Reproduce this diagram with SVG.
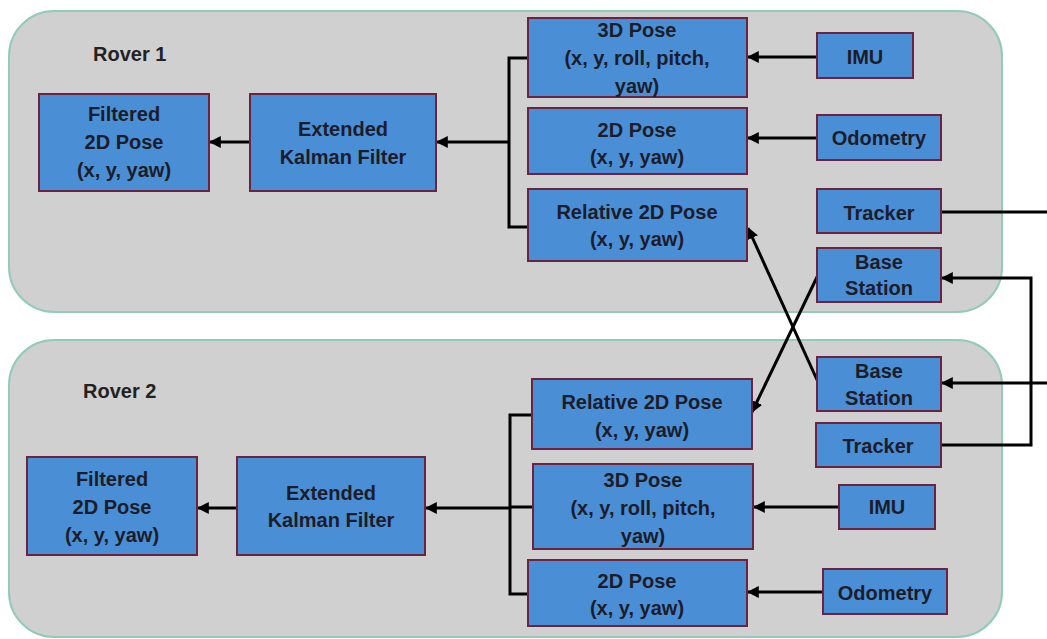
<svg xmlns="http://www.w3.org/2000/svg" width="1047" height="639" viewBox="0 0 1047 639">
<defs>
<style>
.rover{fill:#d0d0d0;stroke:#93cbb8;stroke-width:2}
.box{fill:#4a8fd5;stroke:#6a2341;stroke-width:2}
text{font-family:"Liberation Sans",Arial,sans-serif;font-weight:bold;font-size:20px;fill:#1c1c2a;text-anchor:middle}
.title{text-anchor:start;fill:#222}
.ln{fill:none;stroke:#000;stroke-width:3}
.arr{fill:none;stroke:#000;stroke-width:3;marker-end:url(#ah)}
</style>
<marker id="ah" viewBox="0 0 10 10" refX="9" refY="5" markerWidth="4" markerHeight="4" orient="auto" markerUnits="strokeWidth">
<path d="M0,0 L10,5 L0,10 z" fill="#000"/>
</marker>
</defs>
<rect width="1047" height="639" fill="#ffffff"/>
<g id="rover1">
<rect class="rover" x="9" y="11" width="993" height="301" rx="45" ry="45"/>
<text class="title" x="93" y="61">Rover 1</text>
</g>
<g id="rover2">
<rect class="rover" x="9" y="340" width="993" height="297" rx="45" ry="45"/>
<text class="title" x="83" y="398">Rover 2</text>
</g>
<g id="connectors">
<path class="arr" d="M250,142 H210"/>
<path class="ln" d="M528,58 H509 V227 H528"/>
<path class="arr" d="M509,142 H437"/>
<path class="arr" d="M817,57 H748"/>
<path class="arr" d="M817,138 H748"/>
<path class="ln" d="M941,212 H1047"/>
<path class="arr" d="M941,445 H1031 V278 H942"/>
<path class="arr" d="M1047,383 H942"/>
<path class="arr" d="M818,382 L748,228"/>
<path class="arr" d="M818,275 L752,412"/>
<path class="arr" d="M237,508 H198"/>
<path class="ln" d="M532,415 H510 V594 H528 M510,507 H533"/>
<path class="arr" d="M510,508 H426"/>
<path class="arr" d="M839,507 H754"/>
<path class="arr" d="M823,592 H748"/>
</g>
<g id="filtered1"><rect class="box" x="39" y="94" width="170" height="97"/><text x="124" y="121">Filtered</text><text x="124" y="149">2D Pose</text><text x="124" y="177">(x, y, yaw)</text></g>
<g id="ekf1"><rect class="box" x="250" y="94" width="186" height="97"/><text x="343" y="136">Extended</text><text x="343" y="164">Kalman Filter</text></g>
<g id="pose3d1"><rect class="box" x="528" y="18" width="219" height="79"/><text x="637" y="37">3D Pose</text><text x="637" y="65">(x, y, roll, pitch,</text><text x="637" y="93">yaw)</text></g>
<g id="pose2d1"><rect class="box" x="528" y="108" width="219" height="66"/><text x="637" y="137">2D Pose</text><text x="637" y="164">(x, y, yaw)</text></g>
<g id="rel1"><rect class="box" x="528" y="189" width="219" height="72"/><text x="637" y="219">Relative 2D Pose</text><text x="637" y="246">(x, y, yaw)</text></g>
<g id="imu1"><rect class="box" x="817" y="33" width="96" height="45"/><text x="865" y="64">IMU</text></g>
<g id="odom1"><rect class="box" x="817" y="115" width="124" height="45"/><text x="879" y="145">Odometry</text></g>
<g id="tracker1"><rect class="box" x="817" y="189" width="124" height="44"/><text x="879" y="220">Tracker</text></g>
<g id="base1"><rect class="box" x="817" y="248" width="124" height="54"/><text x="879" y="269">Base</text><text x="879" y="295">Station</text></g>
<g id="filtered2"><rect class="box" x="27" y="457" width="170" height="98"/><text x="112" y="486">Filtered</text><text x="112" y="514">2D Pose</text><text x="112" y="542">(x, y, yaw)</text></g>
<g id="ekf2"><rect class="box" x="237" y="457" width="188" height="98"/><text x="331" y="500">Extended</text><text x="331" y="527">Kalman Filter</text></g>
<g id="rel2"><rect class="box" x="532" y="379" width="220" height="70"/><text x="642" y="409">Relative 2D Pose</text><text x="642" y="437">(x, y, yaw)</text></g>
<g id="pose3d2"><rect class="box" x="533" y="464" width="220" height="85"/><text x="643" y="487">3D Pose</text><text x="643" y="515">(x, y, roll, pitch,</text><text x="643" y="543">yaw)</text></g>
<g id="pose2d2"><rect class="box" x="528" y="560" width="219" height="66"/><text x="637" y="588">2D Pose</text><text x="637" y="615">(x, y, yaw)</text></g>
<g id="base2"><rect class="box" x="817" y="357" width="124" height="54"/><text x="879" y="378">Base</text><text x="879" y="405">Station</text></g>
<g id="tracker2"><rect class="box" x="816" y="423" width="125" height="44"/><text x="878" y="453">Tracker</text></g>
<g id="imu2"><rect class="box" x="839" y="485" width="96" height="44"/><text x="887" y="514">IMU</text></g>
<g id="odom2"><rect class="box" x="823" y="569" width="124" height="45"/><text x="885" y="600">Odometry</text></g>
</svg>
